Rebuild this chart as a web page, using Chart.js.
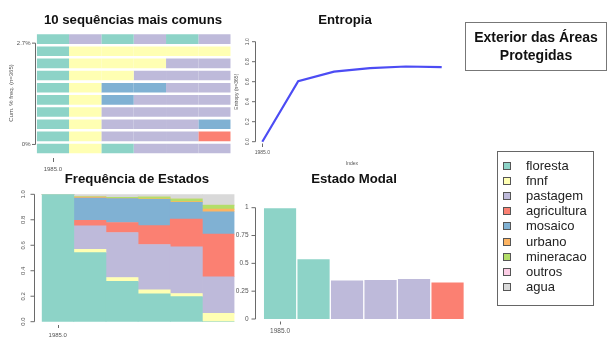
<!DOCTYPE html>
<html>
<head>
<meta charset="utf-8">
<script src="https://cdn.jsdelivr.net/npm/chart.js@4/dist/chart.umd.min.js"></script>
<style>
  html, body { margin: 0; padding: 0; background: #fff; }
  #wrap { position: relative; width: 607px; height: 337px; overflow: hidden;
          font-family: "Liberation Sans", Arial, sans-serif; }
  canvas.layer { position: absolute; left: 0; top: 0; }
  .title { position: absolute; font-weight: bold; font-size: 13.2px; color: #111;
           transform: translate(-50%, -50%); white-space: nowrap; }
  #mainBox { position: absolute; left: 465px; top: 22px; width: 140px; height: 47px;
             border: 1px solid #777; text-align: center; font-weight: bold; font-size: 14px;
             line-height: 17.5px; color: #111; box-sizing: content-box; }
  #mainBox div { padding-top: 6px; }
  #legend { position: absolute; left: 497px; top: 151px; width: 95px; height: 153px;
            border: 1px solid #666; }
  .item { position: absolute; left: 0; font-size: 13px; color: #222; white-space: nowrap; }
  .item .sw { position: absolute; left: 5px; top: -4px; width: 6px; height: 6px; border: 1px solid #555; }
  .item .lb { position: absolute; left: 28px; top: -8px; line-height: 15px; }
</style>
</head>
<body>
<div id="wrap">
  <canvas id="cModal" class="layer" width="607" height="337"></canvas>
  <canvas id="cSeq" class="layer" width="607" height="337"></canvas>
  <canvas id="cEnt" class="layer" width="607" height="337"></canvas>
  <canvas id="cFreq" class="layer" width="607" height="337"></canvas>

  <div class="title" style="left:133px;top:19px">10 sequências mais comuns</div>
  <div class="title" style="left:345px;top:19px">Entropia</div>
  <div class="title" style="left:137px;top:178px">Frequência de Estados</div>
  <div class="title" style="left:354px;top:178px">Estado Modal</div>
  <div id="mainBox"><div>Exterior das Áreas<br>Protegidas</div></div>
  <div id="legend"></div>
</div>

<script>
// ---- states and their colours ----
const states = ['floresta', 'fnnf', 'pastagem', 'agricultura', 'mosaico', 'urbano', 'mineracao', 'outros', 'agua'];
const stateColors = ['#8DD3C7', '#FFFFB3', '#BEBADA', '#FB8072', '#80B1D3', '#FDB462', '#B3DE69', '#FCCDE5', '#D9D9D9'];

// ---- time positions (only the first one carries a tick label) ----
const positions = [1, 2, 3, 4, 5, 6];
const firstTickLabel = '1985.0';

// ---- 10 most common sequences (top row first) ----
const topSequences = [
  ['floresta', 'pastagem', 'floresta', 'pastagem', 'floresta', 'pastagem'],
  ['floresta', 'fnnf', 'fnnf', 'fnnf', 'fnnf', 'fnnf'],
  ['floresta', 'fnnf', 'fnnf', 'fnnf', 'pastagem', 'pastagem'],
  ['floresta', 'fnnf', 'fnnf', 'pastagem', 'pastagem', 'pastagem'],
  ['floresta', 'fnnf', 'mosaico', 'mosaico', 'pastagem', 'pastagem'],
  ['floresta', 'fnnf', 'mosaico', 'pastagem', 'pastagem', 'pastagem'],
  ['floresta', 'fnnf', 'pastagem', 'pastagem', 'pastagem', 'pastagem'],
  ['floresta', 'fnnf', 'pastagem', 'pastagem', 'pastagem', 'mosaico'],
  ['floresta', 'fnnf', 'pastagem', 'pastagem', 'pastagem', 'agricultura'],
  ['floresta', 'fnnf', 'floresta', 'pastagem', 'pastagem', 'pastagem']
];
const seqCumPct = [0, 2.7];
const seqTickLabels = ['0%', '2.7%'];

// ---- transversal entropy ----
const entropy = [0, 0.605, 0.70, 0.735, 0.752, 0.745];
const entropyTicks = [0, 0.2, 0.4, 0.6, 0.8, 1.0];
const entropyTickLabels = ['0.0', '0.2', '0.4', '0.6', '0.8', '1.0'];

// ---- state distribution per position ----
const freqFloresta    = [1, 0.542, 0.316, 0.218, 0.197, 0];
const freqFnnf        = [0, 0.026, 0.031, 0.032, 0.024, 0.066];
const freqPastagem    = [0, 0.185, 0.353, 0.356, 0.366, 0.287];
const freqAgricultura = [0, 0.042, 0.079, 0.148, 0.218, 0.335];
const freqMosaico     = [0, 0.176, 0.187, 0.207, 0.132, 0.175];
const freqUrbano      = [0, 0.008, 0.003, 0.003, 0.005, 0.021];
const freqMineracao   = [0, 0.004, 0.007, 0.016, 0.022, 0.031];
const freqOutros      = [0, 0, 0, 0, 0, 0];
const freqAgua        = [0, 0.017, 0.024, 0.020, 0.036, 0.085];
const freqTicks = [0, 0.2, 0.4, 0.6, 0.8, 1.0];
const freqTickLabels = ['0.0', '0.2', '0.4', '0.6', '0.8', '1.0'];

const modalTicks = [0, 0.25, 0.5, 0.75, 1];
const modalTickLabels = ['0', '0.25', '0.5', '0.75', '1'];

// ---- derived tables ----
const freqByState = [freqFloresta, freqFnnf, freqPastagem, freqAgricultura, freqMosaico,
                     freqUrbano, freqMineracao, freqOutros, freqAgua];
const colorOf = {};
states.forEach((s, i) => { colorOf[s] = stateColors[i]; });

// modal state = most frequent state at each position
const modalState = positions.map((_, j) => {
  let best = 0;
  freqByState.forEach((arr, i) => { if (arr[j] > freqByState[best][j]) best = i; });
  return best;
});
const modalFreq = modalState.map((si, j) => freqByState[si][j]);

// ---- helpers ----
const W = 607, H = 337;
function area(x0, y0, x1, y1) {
  return { left: x0, top: y0, right: W - x1, bottom: H - y1 };
}
const AXIS = '#6a6a6a', TXT = '#555';

function leftAxis(ctx, scale, x, values, labels, o) {
  const ys = values.map(v => scale.getPixelForValue(v));
  ctx.save();
  ctx.strokeStyle = AXIS; ctx.lineWidth = 1;
  ctx.beginPath();
  ctx.moveTo(x, Math.min(...ys)); ctx.lineTo(x, Math.max(...ys));
  ys.forEach(y => { ctx.moveTo(x, y); ctx.lineTo(x - o.tick, y); });
  ctx.stroke();
  ctx.fillStyle = TXT; ctx.font = o.font;
  ys.forEach((y, i) => {
    if (o.rotate) {
      ctx.save(); ctx.translate(x - o.gap, y); ctx.rotate(-Math.PI / 2);
      ctx.textAlign = 'center'; ctx.textBaseline = 'middle';
      ctx.fillText(labels[i], 0, 0); ctx.restore();
    } else {
      ctx.textAlign = 'right'; ctx.textBaseline = 'middle';
      ctx.fillText(labels[i], x - o.gap, y);
    }
  });
  ctx.restore();
}
function bottomTick(ctx, xpx, y0, len, label, labelY, font) {
  ctx.save();
  ctx.strokeStyle = AXIS; ctx.lineWidth = 1;
  ctx.beginPath(); ctx.moveTo(Math.round(xpx) + 0.5, y0); ctx.lineTo(Math.round(xpx) + 0.5, y0 + len); ctx.stroke();
  ctx.fillStyle = TXT; ctx.font = font; ctx.textAlign = 'center'; ctx.textBaseline = 'middle';
  ctx.fillText(label, xpx, labelY);
  ctx.restore();
}
function vText(ctx, text, x, y, font) {
  ctx.save(); ctx.translate(x, y); ctx.rotate(-Math.PI / 2);
  ctx.fillStyle = TXT; ctx.font = font; ctx.textAlign = 'center'; ctx.textBaseline = 'middle';
  ctx.fillText(text, 0, 0); ctx.restore();
}
const FF = '"Liberation Sans", Arial, sans-serif';
const base = { responsive: false, animation: false, devicePixelRatio: 1,
               plugins: { legend: { display: false }, tooltip: { enabled: false } } };

// ---- 10 most common sequences ----
new Chart(document.getElementById('cSeq'), {
  type: 'bar',
  data: {
    labels: topSequences.map((_, i) => 'r' + (i + 1)),
    datasets: positions.map((_, j) => ({
      data: topSequences.map(() => 1),
      backgroundColor: topSequences.map(r => colorOf[r[j]]),
      borderWidth: 0,
      categoryPercentage: 1,
      barPercentage: 0.79
    }))
  },
  options: Object.assign({}, base, {
    indexAxis: 'y',
    layout: { padding: area(36.7, 33, 230.7, 154.6) },
    scales: {
      x: { type: 'linear', min: 0, max: positions.length, stacked: true, display: false },
      y: { type: 'category', stacked: true, display: false },
      pct: { type: 'linear', axis: 'y', position: 'left', min: seqCumPct[0], max: seqCumPct[1], display: false }
    }
  }),
  plugins: [{
    id: 'seqAxes',
    afterDraw(c) {
      const ctx = c.ctx;
      leftAxis(ctx, c.scales.pct, 35.5, seqCumPct, seqTickLabels, { tick: 3.5, gap: 5, font: '6px ' + FF });
      bottomTick(ctx, c.scales.x.getPixelForValue(0.5), 158, 4, firstTickLabel, 169.5, '6px ' + FF);
      vText(ctx, 'Cum. % freq. (n=365)', 11.7, 93, '6px ' + FF);
    }
  }]
});

// ---- entropy ----
new Chart(document.getElementById('cEnt'), {
  type: 'line',
  data: {
    labels: positions,
    datasets: [{ data: entropy, borderColor: '#4c4cf4', borderWidth: 2.2, pointRadius: 0, tension: 0, fill: false }]
  },
  options: Object.assign({}, base, {
    layout: { padding: area(262.3, 41.7, 441.7, 141.7) },
    clip: false,
    scales: {
      x: { type: 'category', offset: false, display: false },
      y: { type: 'linear', min: 0, max: 1, display: false }
    }
  }),
  plugins: [{
    id: 'entAxes',
    afterDraw(c) {
      const ctx = c.ctx;
      leftAxis(ctx, c.scales.y, 255.5, entropyTicks, entropyTickLabels, { tick: 3.5, gap: 8, font: '5px ' + FF, rotate: true });
      bottomTick(ctx, c.scales.x.getPixelForValue(0), 143.5, 3.5, firstTickLabel, 152.7, '5px ' + FF);
      vText(ctx, 'Entropy (n=365)', 237, 91.7, '5px ' + FF);
      ctx.save(); ctx.fillStyle = TXT; ctx.font = '5px ' + FF; ctx.textAlign = 'center'; ctx.textBaseline = 'middle';
      ctx.fillText('Index', 352, 164); ctx.restore();
    }
  }]
});

// ---- modal state ----
new Chart(document.getElementById('cModal'), {
  type: 'bar',
  data: {
    labels: positions,
    datasets: [{
      data: modalFreq,
      backgroundColor: modalState.map(i => stateColors[i]),
      borderColor: 'rgba(255,255,255,0.3)',
      borderWidth: 1,
      categoryPercentage: 1,
      barPercentage: 1
    }]
  },
  options: Object.assign({}, base, {
    layout: { padding: area(263.3, 207.7, 464.3, 319) },
    scales: {
      x: { type: 'category', display: false },
      y: { type: 'linear', min: 0, max: 1, display: false }
    }
  }),
  plugins: [{
    id: 'modalAxes',
    afterDraw(c) {
      const ctx = c.ctx;
      leftAxis(ctx, c.scales.y, 255.5, modalTicks, modalTickLabels, { tick: 4, gap: 7, font: '6.5px ' + FF });
      bottomTick(ctx, c.scales.x.getPixelForValue(0), 321.5, 3, firstTickLabel, 331.7, '6.5px ' + FF);
    }
  }]
});

// ---- state distribution ----
new Chart(document.getElementById('cFreq'), {
  type: 'bar',
  data: {
    labels: positions,
    datasets: states.map((s, i) => ({
      label: s,
      data: freqByState[i],
      backgroundColor: stateColors[i],
      borderWidth: 0,
      categoryPercentage: 1,
      barPercentage: 1
    }))
  },
  options: Object.assign({}, base, {
    layout: { padding: area(41.7, 194.3, 234.5, 321.7) },
    scales: {
      x: { type: 'category', stacked: true, display: false },
      y: { type: 'linear', min: 0, max: 1, stacked: true, display: false }
    }
  }),
  plugins: [{
    id: 'freqAxes',
    afterDraw(c) {
      const ctx = c.ctx;
      leftAxis(ctx, c.scales.y, 34.5, freqTicks, freqTickLabels, { tick: 4, gap: 11, font: '6px ' + FF, rotate: true });
      bottomTick(ctx, c.scales.x.getPixelForValue(0), 325, 3, firstTickLabel, 335, '6px ' + FF);
    }
  }]
});

// ---- legend ----
const legend = document.getElementById('legend');
states.forEach((s, i) => {
  const it = document.createElement('div');
  it.className = 'item';
  it.style.top = (14 + i * 15.1) + 'px';
  it.innerHTML = '<span class="sw" style="background:' + stateColors[i] + '"></span><span class="lb">' + s + '</span>';
  legend.appendChild(it);
});
</script>
</body>
</html>
